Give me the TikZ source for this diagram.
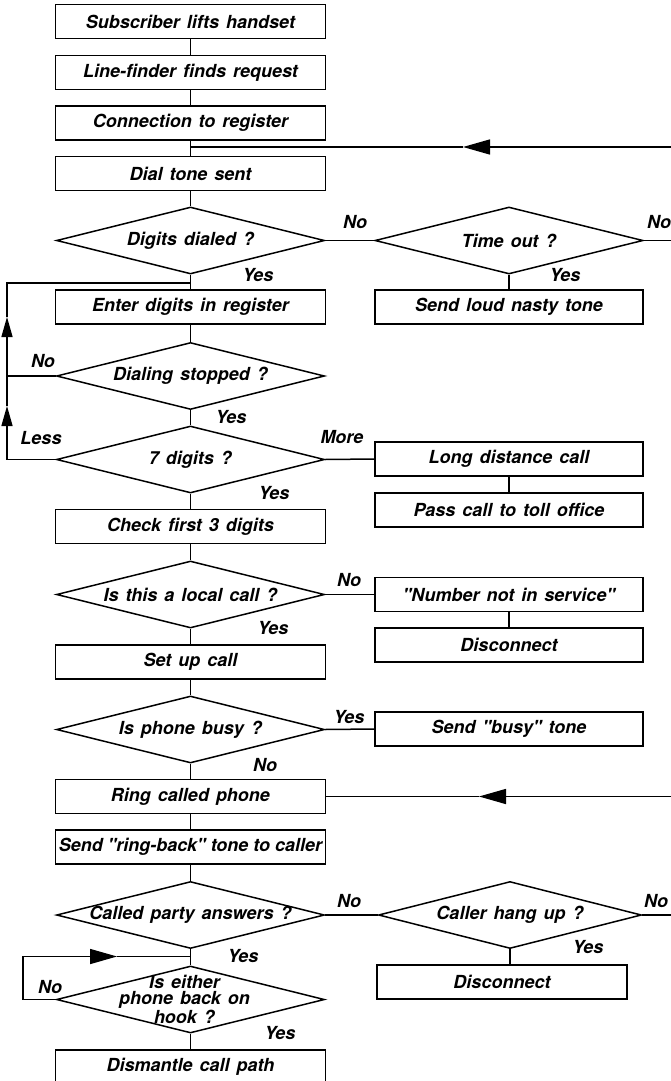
\documentclass[tikz,border=0pt]{standalone}
\usepackage{fontspec}
\setmainfont{TeX Gyre Heros}
\usetikzlibrary{shapes.geometric,arrows.meta}
\newcommand\flowfont{\fontsize{18pt}{16pt}\selectfont\bfseries\itshape\spaceskip 7pt plus 2pt minus 1pt\relax}
\newcommand\qq{\textquotedbl}
\begin{document}
\begin{tikzpicture}[x=1pt,y=-1pt,
  line width=1.5pt,
  every node/.style={font=\flowfont},
  box/.style={draw, rectangle, minimum width=270pt, minimum height=34pt, inner sep=0pt},
  rbox/.style={box, minimum width=268pt},
  dec/.style={draw, diamond, minimum width=268pt, minimum height=67pt, inner sep=0pt},
  txt/.style={inner sep=0pt, align=center},
  lab/.style={inner sep=0pt},
  bigarrow/.style={-{Triangle[length=27pt,width=15pt]}},
  smallarrow/.style={-{Triangle[length=20pt,width=11pt]}}]
\useasboundingbox (0,0) rectangle (671,1081);
% main column
\node[box] (b1) at (190.5,21.5) {Subscriber lifts handset};
\node[box] (b2) at (190.5,72.5) {Line-finder finds request};
\node[box] (b3) at (190.5,123) {Connection to register};
\node[box] (b4) at (190.5,173.5) {Dial tone sent};
\node[dec] (d1) at (190.5,240.5) {};
\node[txt] (d1t) at (d1) {Digits dialed ?};
\node[box] (b5) at (190.5,307) {Enter digits in register};
\node[dec] (d3) at (190.5,376) {};
\node[txt] (d3t) at (d3) {Dialing stopped ?};
\node[dec] (d4) at (190.5,459.5) {};
\node[txt] (d4t) at (d4) {7 digits ?};
\node[box] (b6) at (190.5,526.5) {Check first 3 digits};
\node[dec] (d5) at (190.5,594.5) {};
\node[txt] (d5t) at (d5) {Is this a local call ?};
\node[box] (b7) at (190.5,662) {Set up call};
\node[dec] (d6) at (190.5,729.5) {};
\node[txt] (d6t) at (d6) {Is phone busy ?};
\node[box] (b8) at (190.5,796.5) {Ring called phone};
\node[box] (b9) at (190.5,847) {\spaceskip 5pt\relax Send \qq ring-back\qq\ tone to caller};
\node[dec] (d7) at (190.5,915) {};
\node[txt] (d7t) at (d7) {Called party answers ?};
\node[dec] (d9) at (190.5,999.5) {};
\node[txt] (d9t) at ([xshift=-6pt]d9.center) {Is either\\phone back on\\hook ?};
\node[box] (b10) at (190.5,1067) {Dismantle call path};
% right column
\node[dec] (d2) at (509,240.5) {};
\node[txt] (d2t) at (d2) {Time out ?};
\node[rbox] (r1) at (509,307) {Send loud nasty tone};
\node[rbox] (r2) at (509,459) {Long distance call};
\node[rbox] (r3) at (509,510) {Pass call to toll office};
\node[rbox] (r4) at (509,594.5) {\qq Number not in service\qq};
\node[rbox] (r5) at (509,645) {Disconnect};
\node[rbox] (r6) at (509,729) {Send \qq busy\qq\ tone};
\node[dec, minimum width=263pt] (d8) at (510,915) {};
\node[txt] (d8t) at (d8) {Caller hang up ?};
\node[box, minimum width=250pt] (r7) at (502,982) {Disconnect};
% coordinates
\coordinate (ra) at (671,147);
\coordinate (ma) at (463,147);
\coordinate (ja) at (190.5,147);
\coordinate (e1) at (671,240.5);
\coordinate (la) at (7,283);
\coordinate (ja2) at (190.5,283);
\coordinate (m1) at (7,317);
\coordinate (lb) at (7,376);
\coordinate (m2) at (7,406);
\coordinate (lc) at (7,459.5);
\coordinate (rb) at (671,796.5);
\coordinate (mb) at (479,796.5);
\coordinate (e2) at (671,915);
\coordinate (lx) at (23,999.5);
\coordinate (ly) at (23,956.5);
\coordinate (mc) at (117,956.5);
\coordinate (jc) at (190.5,956.5);
% main flow
\draw (b1) -- (b2);
\draw (b2) -- (b3);
\draw (b3) -- (b4);
\draw (b4.south) -- (d1.north);
\draw (d1.south) -- (b5.north);
\draw (b5.south) -- (d3.north);
\draw (d3.south) -- (d4.north);
\draw (d4.south) -- (b6.north);
\draw (b6.south) -- (d5.north);
\draw (d5.south) -- (b7.north);
\draw (b7.south) -- (d6.north);
\draw (d6.south) -- (b8.north);
\draw (b8) -- (b9);
\draw (b9.south) -- (d7.north);
\draw (d7.south) -- (d9.north);
\draw (d9.south) -- (b10.north);
% branches
\draw (d1.east) -- (d2.west);
\draw (d2.east) -- (e1);
\draw (d2.south) -- (r1.north);
\draw (d4.east) -- (r2.west);
\draw (r2) -- (r3);
\draw (d5.east) -- (r4.west);
\draw (r4) -- (r5);
\draw (d6.east) -- (r6.west);
\draw (d7.east) -- (d8.west);
\draw (d8.east) -- (e2);
\draw (d8.south) -- (d8.south |- r7.north);
% loops
\draw[bigarrow] (ra) -- (ma);
\draw (ma) -- (ja);
\draw[smallarrow] (d4.west) -- (lc) -- (m2);
\draw[smallarrow] (m2) -- (m1);
\draw (m1) -- (la) -- (ja2);
\draw (d3.west) -- (lb);
\draw[bigarrow] (rb) -- (mb);
\draw (mb) -- (b8.east);
\draw[bigarrow] (d9.west) -- (lx) -- (ly) -- (mc);
\draw (mc) -- (jc);
% labels
\node[lab] (l1) at (355,222) {No};
\node[lab] (l2) at (659,222) {No};
\node[lab] (l3) at (258,275) {Yes};
\node[lab] (l4) at (565,275) {Yes};
\node[lab] (l5) at (43,361) {No};
\node[lab] (l6) at (231,417) {Yes};
\node[lab] (l7) at (41,438) {Less};
\node[lab] (l8) at (342,437) {More};
\node[lab] (l9) at (274,493) {Yes};
\node[lab] (l10) at (349,580) {No};
\node[lab] (l11) at (273,628) {Yes};
\node[lab] (l12) at (349,717) {Yes};
\node[lab] (l13) at (265,765) {No};
\node[lab] (l14) at (349,901) {No};
\node[lab] (l15) at (656,901) {No};
\node[lab] (l16) at (588,947) {Yes};
\node[lab] (l17) at (243,956) {Yes};
\node[lab] (l18) at (50,987) {No};
\node[lab] (l19) at (280,1033) {Yes};
\end{tikzpicture}
\end{document}
